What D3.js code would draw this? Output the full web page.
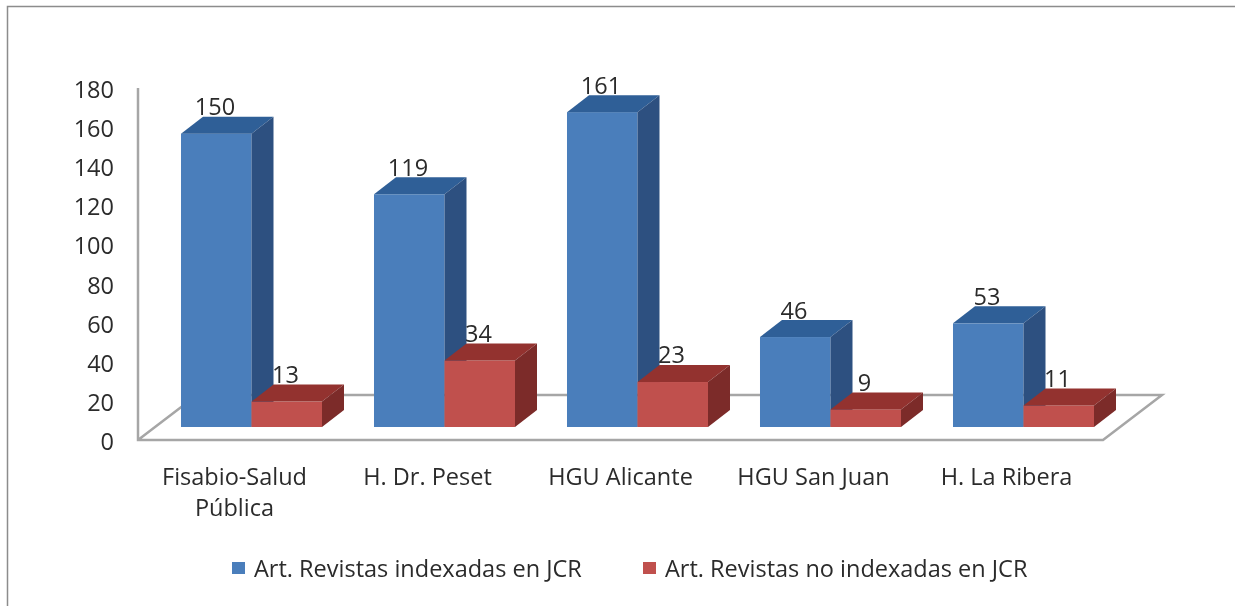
<!DOCTYPE html>
<html>
<head>
<meta charset="utf-8">
<style>
    body { margin: 0; background: #fff; }
    svg { filter: blur(0.5px); display: block; }
    text { font-family: "Open Sans", sans-serif; fill: #2b2b2b; }
</style>
</head>
<body>
<div id="container"></div>
<script src="https://cdn.jsdelivr.net/npm/d3@7"></script>
<script>
const categories = ["Fisabio-Salud Pública", "H. Dr. Peset", "HGU Alicante", "HGU San Juan", "H. La Ribera"];
const indexed = [150, 119, 161, 46, 53];
const notIndexed = [13, 34, 23, 9, 11];
const seriesNames = ["Art. Revistas indexadas en JCR", "Art. Revistas no indexadas en JCR"];
const yTicks = d3.range(0, 181, 20);

const width = 1235, height = 606;
const fontSize = "23.5px";

const svg = d3.select("#container")
    .append("svg")
    .attr("width", width)
    .attr("height", height);

// outer frame, only top and left show in the picture
svg.append("path")
    .attr("d", "M7.5,606V6.5H1235")
    .attr("fill", "none")
    .attr("stroke", "#8c8c8c")
    .attr("stroke-width", 1.5);

const y = d3.scaleLinear().domain([0, 180]).range([440, 88]);
const x = d3.scaleBand().domain(categories).range([155, 1120]).paddingInner(0.2694).paddingOuter(0.1347);
const xSeries = d3.scaleBand().domain([0, 1]).range([0, x.bandwidth()]);

// fake 3d
const floorLeft = 138, floorRight = 1103;
const floorDx = 59, floorDy = -45;
const barDx = 22, barDy = -17;
const barLift = 13; // bars stand a bit behind the front edge of the floor

const axisColor = "#a6a6a6";

svg.append("path")
    .attr("d", `M${floorLeft},${y(180)}V${y(0)}H${floorRight}l${floorDx},${floorDy}H${floorLeft + floorDx}L${floorLeft},${y(0)}`)
    .attr("fill", "none")
    .attr("stroke", axisColor)
    .attr("stroke-width", 2.5);

const yAxis = svg.append("g")
    .attr("transform", "translate(114,2)")
    .call(d3.axisLeft(y).tickValues(yTicks).tickSize(0).tickPadding(0));
yAxis.select(".domain").remove();
yAxis.selectAll("text").style("font-size", fontSize).style("font-family", "'Open Sans', sans-serif").attr("fill", "#2b2b2b");

const styles = [
    { front: "#4a7ebb", top: "#2f5f97", side: "#2d5080" },
    { front: "#c0504d", top: "#93322f", side: "#7c2b29" }
];

function drawBar(g, category, value, s) {
    const x0 = x(category) + xSeries(s);
    const w = xSeries.bandwidth();
    const base = y(0) - barLift;
    const top = y(value) - barLift;
    const c = styles[s];
    g.append("rect")
        .attr("x", x0).attr("y", top)
        .attr("width", w).attr("height", base - top)
        .attr("fill", c.front);
    g.append("path")
        .attr("d", `M${x0},${top}l${barDx},${barDy}h${w}l${-barDx},${-barDy}Z`)
        .attr("fill", c.top);
    g.append("path")
        .attr("d", `M${x0 + w},${top}l${barDx},${barDy}V${base + barDy}l${-barDx},${-barDy}Z`)
        .attr("fill", c.side);
}

const bars = svg.append("g");
const labels = svg.append("g");

categories.forEach((cat, i) => {
    [indexed[i], notIndexed[i]].forEach((v, s) => {
        drawBar(bars, cat, v, s);
        labels.append("text")
            .attr("x", x(cat) + xSeries(s) + 34)
            .attr("y", y(v) - barLift - 27)
            .attr("dy", "0.36em")
            .attr("text-anchor", "middle")
            .style("font-size", fontSize)
            .text(v);
    });
});

// category labels, first one wraps on two lines
const catLines = [["Fisabio-Salud", "Pública"], [categories[1]], [categories[2]], [categories[3]], [categories[4]]];
categories.forEach((cat, i) => {
    catLines[i].forEach((line, j) => {
        svg.append("text")
            .attr("x", x(cat) + x.bandwidth() / 2 - 17)
            .attr("y", 477 + j * 31)
            .attr("dy", "0.36em")
            .attr("text-anchor", "middle")
            .style("font-size", fontSize)
            .text(line);
    });
});

// legend
const legendX = [232, 643];
seriesNames.forEach((name, s) => {
    svg.append("rect")
        .attr("x", legendX[s]).attr("y", 562)
        .attr("width", 13).attr("height", 12)
        .attr("fill", styles[s].front);
    svg.append("text")
        .attr("x", legendX[s] + 22)
        .attr("y", 569)
        .attr("dy", "0.36em")
        .style("font-size", fontSize)
        .text(name);
});
</script>
</body>
</html>
